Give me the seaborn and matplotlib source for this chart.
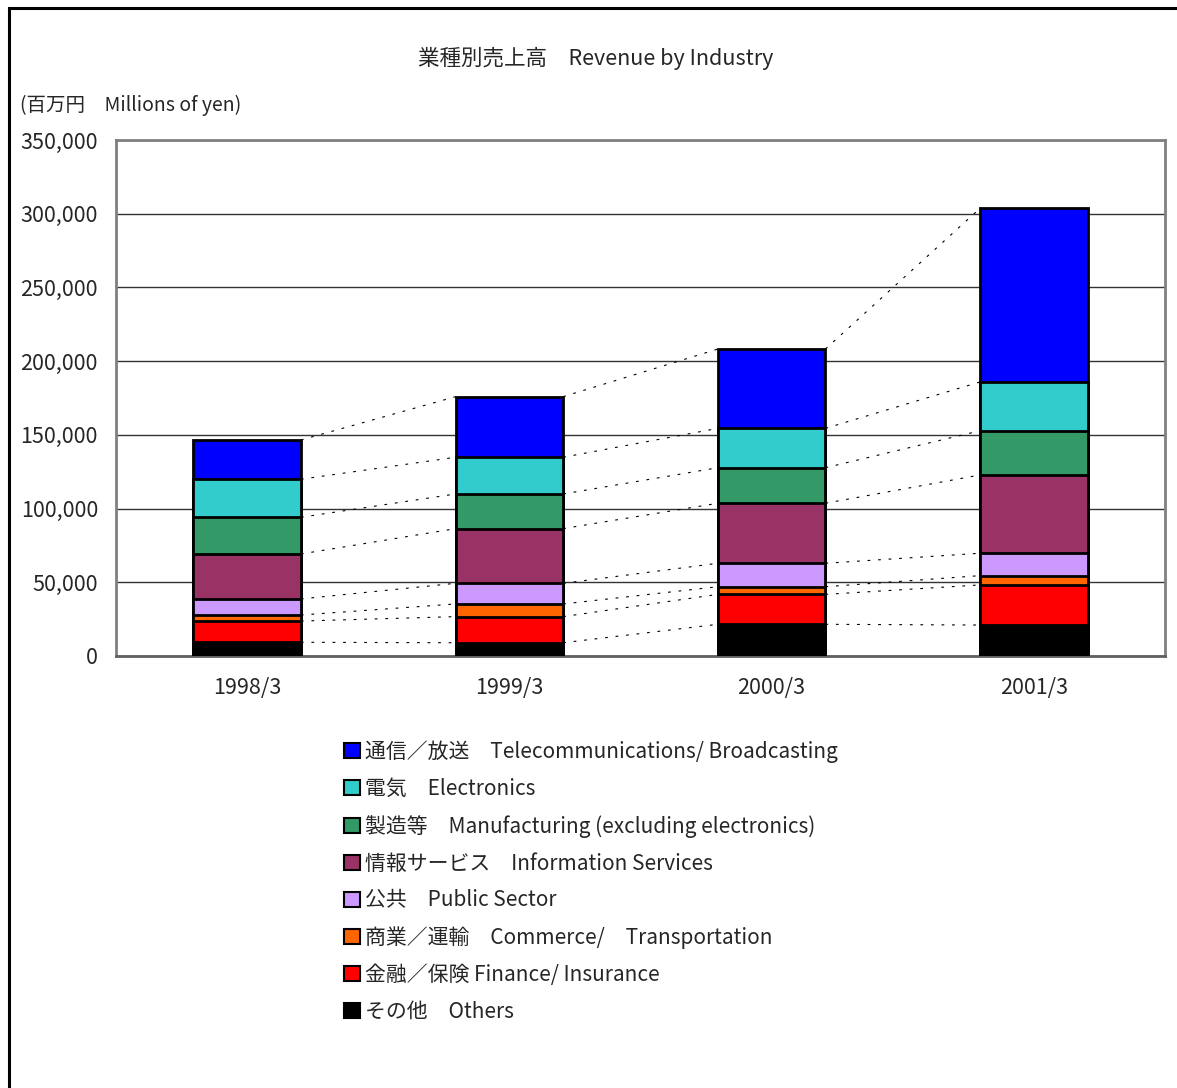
import numpy as np
import pandas as pd
import seaborn as sns
import matplotlib.pyplot as plt
from matplotlib.patches import Patch, Rectangle

# Values in millions of yen (bottom to top of the stack)
years = ["1998/3", "1999/3", "2000/3", "2001/3"]
others = [9.3, 9.0, 21.5, 21.0]
finance = [14.4, 17.7, 20.3, 27.2]
commerce = [4.1, 8.6, 5.2, 6.3]
public = [10.9, 14.0, 15.9, 15.2]
info_services = [30.5, 37.1, 40.7, 53.1]
manufacturing = [24.9, 23.5, 24.1, 30.0]
electronics = [25.8, 24.9, 26.7, 33.1]
telecom = [26.6, 41.1, 53.8, 117.8]

series_names = [
    "その他　Others",
    "金融／保険 Finance/ Insurance",
    "商業／運輸　Commerce/　Transportation",
    "公共　Public Sector",
    "情報サービス　Information Services",
    "製造等　Manufacturing (excluding electronics)",
    "電気　Electronics",
    "通信／放送　Telecommunications/ Broadcasting",
]
series_values = [others, finance, commerce, public, info_services,
                 manufacturing, electronics, telecom]
series_colors = ["#000000", "#FF0000", "#FF6600", "#CC99FF", "#993366",
                 "#339966", "#33CCCC", "#0000FF"]


def main():
    sns.set_style("white")
    plt.rcParams["font.family"] = ["Noto Sans CJK JP", "DejaVu Sans"]

    fig = plt.figure(figsize=(11.77, 10.88), dpi=100)
    ax = fig.add_axes([116 / 1177, 1 - 656 / 1088, 1049 / 1177, 516 / 1088])

    # cumulative (thousands -> millions of yen)
    values = np.array(series_values) * 1000
    cumulative = np.cumsum(values, axis=0)
    bar_width = 0.41

    # draw the tallest stack first, then overlay the lower ones
    for k in range(len(series_names) - 1, -1, -1):
        df = pd.DataFrame({"year": years, "value": cumulative[k]})
        sns.barplot(data=df, x="year", y="value", color=series_colors[k],
                    saturation=1, width=bar_width, edgecolor="black",
                    linewidth=2, ax=ax, zorder=3)

    # dotted series lines between neighbouring bars
    for k in range(len(series_names)):
        for i in range(len(years) - 1):
            ax.plot([i + bar_width / 2, i + 1 - bar_width / 2],
                    [cumulative[k][i], cumulative[k][i + 1]],
                    color="black", linewidth=0.8, linestyle=(0, (2.5, 7)),
                    zorder=2)

    ax.set_xlim(-0.5, 3.5)
    ax.set_ylim(0, 350000)
    ax.set_yticks(np.arange(0, 350001, 50000))
    ax.set_yticklabels(["{:,}".format(v) for v in range(0, 350001, 50000)],
                       fontsize=15.5)
    ax.set_xticks(range(len(years)))
    ax.set_xticklabels(years, fontsize=15.5)
    ax.set_xticks([0.5, 1.5, 2.5], minor=True)
    ax.tick_params(axis="x", which="major", length=0, pad=15)
    ax.tick_params(axis="x", which="minor", direction="in", length=7,
                   width=1.2, color="black")
    ax.tick_params(axis="y", which="major", length=4, width=1.5,
                   color="#808080", pad=9)
    ax.set_xlabel("")
    ax.set_ylabel("")
    ax.yaxis.grid(True, color="#333333", linewidth=1)
    ax.set_axisbelow(True)
    for side in ["left", "right", "top"]:
        ax.spines[side].set_color("#808080")
        ax.spines[side].set_linewidth(2)
    ax.spines["bottom"].set_color("#606060")
    ax.spines["bottom"].set_linewidth(2)

    fig.text(596 / 1177, 1 - 58 / 1088, "業種別売上高　Revenue by Industry",
             ha="center", va="center", fontsize=15.5)
    fig.text(20 / 1177, 1 - 105 / 1088, "(百万円　Millions of yen)",
             ha="left", va="center", fontsize=14)

    handles = [Patch(facecolor=c, edgecolor="black", linewidth=1.5)
               for c in series_colors[::-1]]
    fig.legend(handles=handles, labels=series_names[::-1], loc="upper left",
               bbox_to_anchor=(336 / 1177, 1 - 732 / 1088), frameon=False,
               fontsize=15, handlelength=0.75, handleheight=0.75,
               handletextpad=0.25, labelspacing=0.715, borderaxespad=0)

    # outer frame (only left and top edges are visible in the original)
    fig.add_artist(Rectangle((8.5 / 1177, -0.1), 1.2, 1.1 - 8.5 / 1088,
                             transform=fig.transFigure, fill=False,
                             edgecolor="black", linewidth=2.2))

    fig.savefig("out.png", dpi=100)


if __name__ == "__main__":
    main()
